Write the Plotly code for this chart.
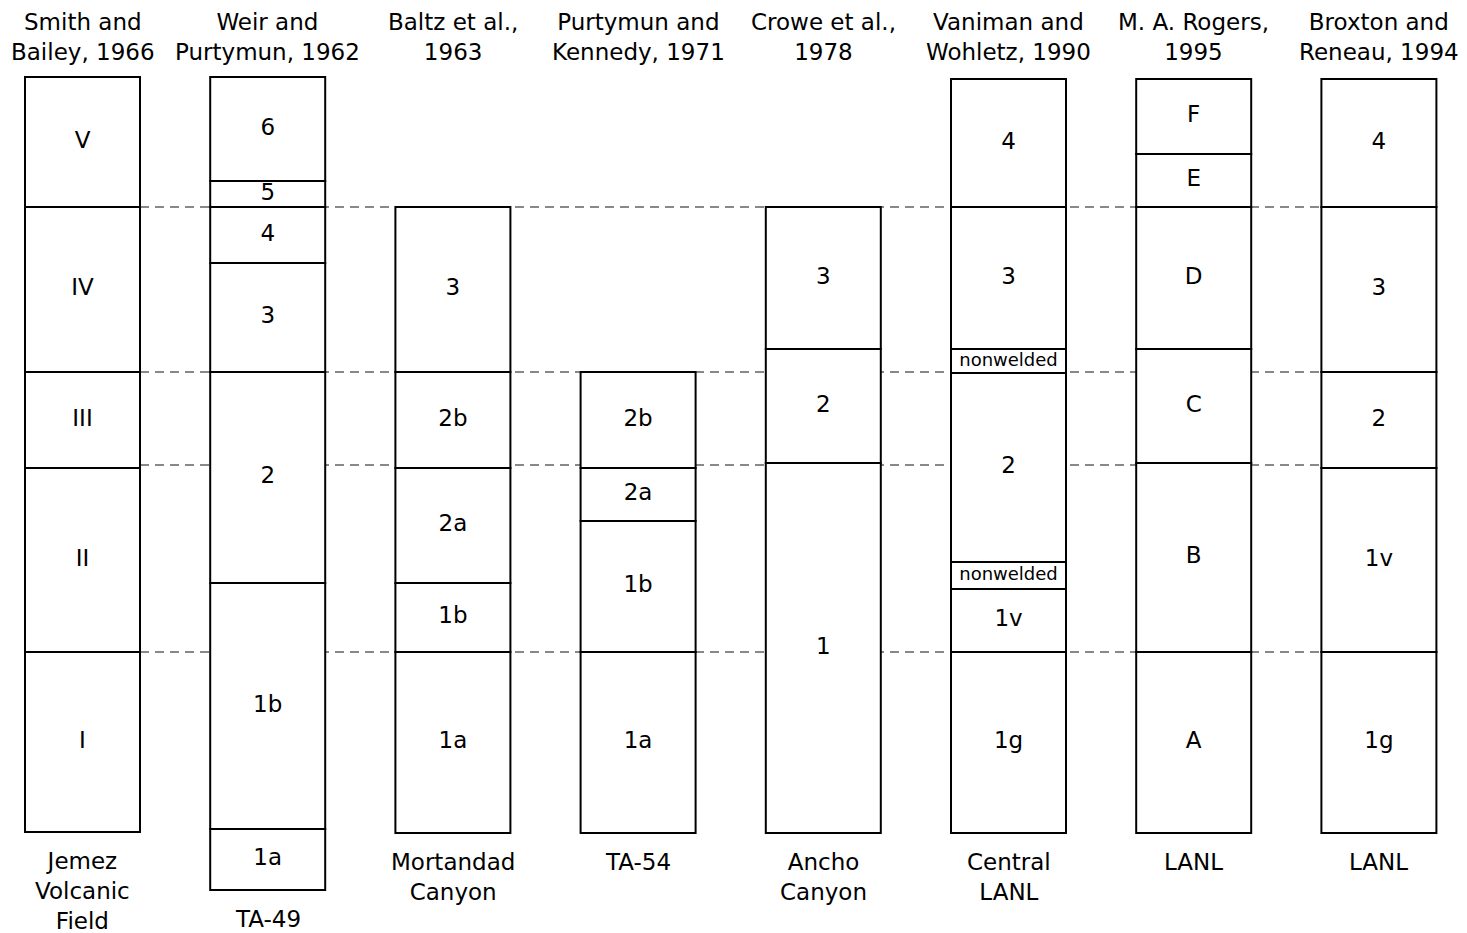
import plotly.graph_objects as go

# ---- data ----
authors = ["Smith and<br>Bailey, 1966", "Weir and<br>Purtymun, 1962", "Baltz et al.,<br>1963",
           "Purtymun and<br>Kennedy, 1971", "Crowe et al.,<br>1978", "Vaniman and<br>Wohletz, 1990",
           "M. A. Rogers,<br>1995", "Broxton and<br>Reneau, 1994"]
locations = ["Jemez<br>Volcanic<br>Field", "TA-49", "Mortandad<br>Canyon", "TA-54",
             "Ancho<br>Canyon", "Central<br>LANL", "LANL", "LANL"]

# unit boundaries (relative stratigraphic depth, top -> bottom)
smith_bounds = [77, 207, 372, 468, 652, 832]
smith_units = ["V", "IV", "III", "II", "I"]
weir_bounds = [77, 181, 207, 263, 372, 583, 829, 890]
weir_units = ["6", "5", "4", "3", "2", "1b", "1a"]
baltz_bounds = [207, 372, 468, 583, 652, 833]
baltz_units = ["3", "2b", "2a", "1b", "1a"]
purtymun_bounds = [372, 468, 521, 652, 833]
purtymun_units = ["2b", "2a", "1b", "1a"]
crowe_bounds = [207, 349, 463, 833]
crowe_units = ["3", "2", "1"]
vaniman_bounds = [79, 207, 349, 373, 562, 589, 652, 833]
vaniman_units = ["4", "3", "nonwelded", "2", "nonwelded", "1v", "1g"]
rogers_bounds = [79, 154, 207, 349, 463, 652, 833]
rogers_units = ["F", "E", "D", "C", "B", "A"]
broxton_bounds = [79, 207, 372, 468, 652, 833]
broxton_units = ["4", "3", "2", "1v", "1g"]

correlation_levels = [207, 372, 465, 652]

columns = [
    (smith_bounds, smith_units), (weir_bounds, weir_units), (baltz_bounds, baltz_units),
    (purtymun_bounds, purtymun_units), (crowe_bounds, crowe_units),
    (vaniman_bounds, vaniman_units), (rogers_bounds, rogers_units),
    (broxton_bounds, broxton_units),
]

# ---- layout ----
PAD = 8  # default page body margin
W, H = 1467, 933
x0_center, x_step, col_w = 82.5, 185.2, 115
FONT = "DejaVu Sans"

fig = go.Figure()
shapes = []
annotations = []

centers = [x0_center + i * x_step for i in range(len(columns))]

# dashed correlation lines
x_left = centers[0] + col_w / 2
x_right = centers[-1] - col_w / 2
for lv in correlation_levels:
    shapes.append(dict(type="line", xref="x", yref="y", x0=x_left, x1=x_right, y0=lv, y1=lv,
                       line=dict(color="#888888", width=2, dash="9px,6px"), layer="below"))

label_x, label_y, label_t, label_s = [], [], [], []
for i, (bounds, units) in enumerate(columns):
    cx = centers[i]
    for j, name in enumerate(units):
        top, bot = bounds[j], bounds[j + 1]
        shapes.append(dict(type="rect", xref="x", yref="y", x0=cx - col_w / 2, x1=cx + col_w / 2,
                           y0=top, y1=bot, fillcolor="white",
                           line=dict(color="black", width=2), layer="below"))
        label_x.append(cx)
        label_y.append((top + bot) / 2)
        label_t.append(name)
        label_s.append(18 if name == "nonwelded" else 23)
    annotations.append(dict(x=cx, y=37, xref="x", yref="y", text=authors[i], showarrow=False,
                            xanchor="center", yanchor="middle",
                            font=dict(family=FONT, size=23, color="black")))
    annotations.append(dict(x=cx, y=bounds[-1] + 14, xref="x", yref="y", text=locations[i],
                            showarrow=False, xanchor="center", yanchor="top",
                            font=dict(family=FONT, size=23, color="black")))

fig.add_trace(go.Scatter(x=label_x, y=label_y, text=label_t, mode="text",
                         textfont=dict(family=FONT, size=label_s, color="black"),
                         hoverinfo="skip", showlegend=False, cliponaxis=False))

fig.update_layout(
    width=W - PAD, height=H - PAD, margin=dict(l=0, r=0, t=0, b=0),
    paper_bgcolor="white", plot_bgcolor="white",
    xaxis=dict(range=[PAD, W], visible=False, fixedrange=True),
    yaxis=dict(range=[H, PAD], visible=False, fixedrange=True),
    shapes=shapes, annotations=annotations, showlegend=False,
)

fig.write_html("out.html")
